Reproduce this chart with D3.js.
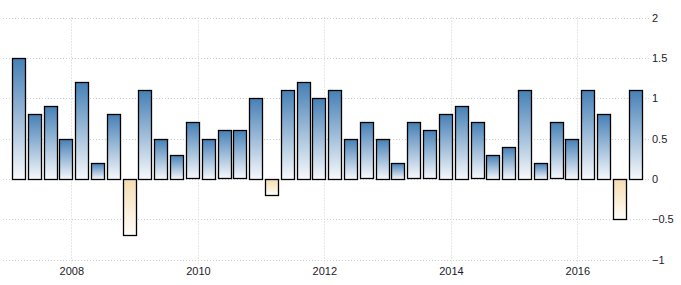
<!DOCTYPE html>
<html>
<head>
<meta charset="utf-8">
<script src="https://cdn.jsdelivr.net/npm/d3@7/dist/d3.min.js"></script>
<style>
  html, body { margin: 0; padding: 0; background: #fff; }
  svg { display: block; }
  text { font-family: Arial, "Liberation Sans", sans-serif; font-size: 11px; fill: #1a1a2a; }
</style>
</head>
<body>
<svg id="chart" width="681" height="285"></svg>
<script>
// Quarterly values, 2007 Q1 .. 2016 Q4
const years = [2007, 2008, 2009, 2010, 2011, 2012, 2013, 2014, 2015, 2016];
const quarters = [1, 2, 3, 4];
const values = [
  1.5, 0.8, 0.9, 0.5,
  1.2, 0.2, 0.8, -0.7,
  1.1, 0.5, 0.3, 0.7,
  0.5, 0.6, 0.6, 1.0,
  -0.2, 1.1, 1.2, 1.0,
  1.1, 0.5, 0.7, 0.5,
  0.2, 0.7, 0.6, 0.8,
  0.9, 0.7, 0.3, 0.4,
  1.1, 0.2, 0.7, 0.5,
  1.1, 0.8, -0.5, 1.1
];
const yTicks = [-1, -0.5, 0, 0.5, 1, 1.5, 2];
const xTickYears = [2008, 2010, 2012, 2014, 2016];

const data = [];
years.forEach((yr, i) => quarters.forEach((q, j) => {
  data.push({ date: new Date(yr, (q - 1) * 3 + 2, 1), value: values[i * 4 + j] });
}));

const svg = d3.select("#chart");
const plotLeft = 3, plotRight = 649;

const x = d3.scaleTime()
  .domain([new Date(2008, 0, 1), new Date(2016, 0, 1)])
  .range([71.3, 577.3]);
const y = d3.scaleLinear().domain([-1, 2]).range([259.5, 17.5]);

const defs = svg.append("defs");
const gPos = defs.append("linearGradient").attr("id", "gPos")
  .attr("x1", 0).attr("y1", 0).attr("x2", 0).attr("y2", 1);
gPos.append("stop").attr("offset", "0%").attr("stop-color", "#4680b6");
gPos.append("stop").attr("offset", "100%").attr("stop-color", "#f7f9fc");
const gNeg = defs.append("linearGradient").attr("id", "gNeg")
  .attr("x1", 0).attr("y1", 0).attr("x2", 0).attr("y2", 1);
gNeg.append("stop").attr("offset", "0%").attr("stop-color", "#f5ddb2");
gNeg.append("stop").attr("offset", "100%").attr("stop-color", "#fffdf9");

// horizontal grid
svg.append("g").selectAll("line").data(yTicks).join("line")
  .attr("x1", plotLeft).attr("x2", plotRight)
  .attr("y1", d => Math.round(y(d)) + 0.5).attr("y2", d => Math.round(y(d)) + 0.5)
  .attr("stroke", "#cfcfcf").attr("stroke-dasharray", "1,2");

// vertical grid
svg.append("g").selectAll("line").data(xTickYears).join("line")
  .attr("x1", d => Math.round(x(new Date(d, 0, 1))) + 0.5)
  .attr("x2", d => Math.round(x(new Date(d, 0, 1))) + 0.5)
  .attr("y1", y(2)).attr("y2", 264)
  .attr("stroke", "#cfcfcf").attr("stroke-dasharray", "1,2");

// bars
const barW = 13;
svg.append("g").selectAll("rect").data(data).join("rect")
  .attr("x", d => Math.round(x(d.date) - barW / 2) + 0.5)
  .attr("width", barW)
  .attr("y", d => Math.round(y(Math.max(0, d.value))) + 0.5)
  .attr("height", d => Math.round(Math.abs(y(d.value) - y(0))))
  .attr("fill", d => d.value >= 0 ? "url(#gPos)" : "url(#gNeg)")
  .attr("stroke", "#000").attr("stroke-width", 1.3);

// y axis labels (right)
svg.append("g").selectAll("text").data(yTicks).join("text")
  .attr("x", 652).attr("y", d => y(d) + 4)
  .text(d => d3.format("")(d));

// x axis labels
svg.append("g").selectAll("text").data(xTickYears).join("text")
  .attr("x", d => x(new Date(d, 0, 1)) + 0.5).attr("y", 274.5)
  .attr("text-anchor", "middle")
  .text(d => d);
</script>
</body>
</html>
